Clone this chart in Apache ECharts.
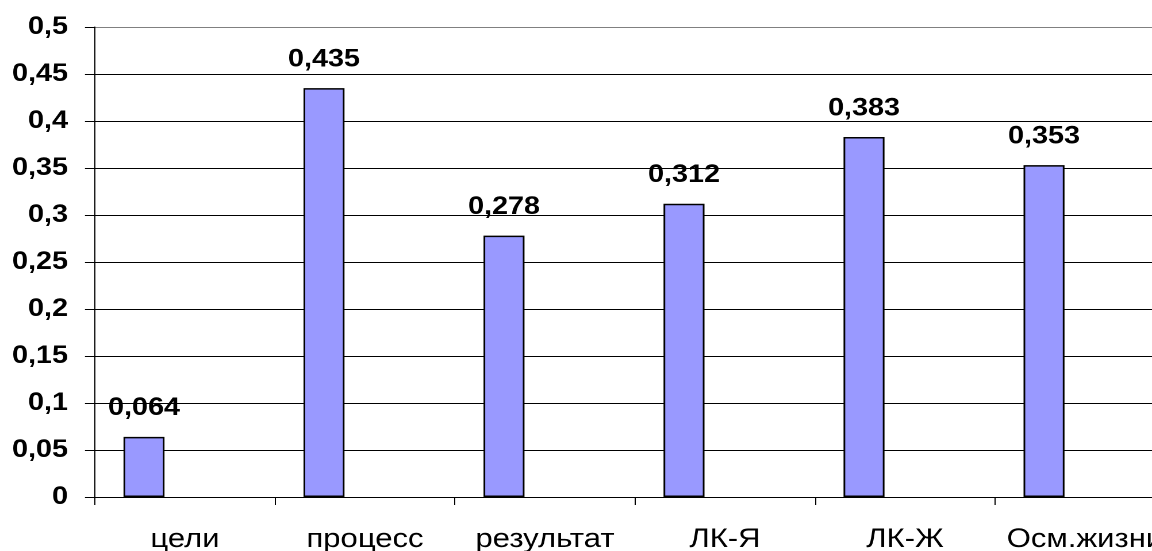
<!DOCTYPE html>
<html>
<head>
<meta charset="utf-8">
<script src="https://cdn.jsdelivr.net/npm/echarts@6/dist/echarts.min.js"></script>
<style>
html,body{margin:0;padding:0;background:#fff;overflow:hidden;}
#wrap{width:1152px;height:551px;overflow:hidden;position:relative;}
#c{width:1002px;height:551px;transform:scaleX(1.1497);transform-origin:0 0;}
</style>
</head>
<body>
<div id="wrap"><div id="c"></div></div>
<script>
const categories = ['цели', 'процесс', 'результат', 'ЛК-Я', 'ЛК-Ж', 'Осм.жизни'];
const values = [0.064, 0.435, 0.278, 0.312, 0.383, 0.353];
const emptySeries = [null, null, null, null, null, null];
const yMin = 0, yMax = 0.5, yStep = 0.05;

const fmt = v => String(+v.toFixed(3)).replace('.', ',');
const gridColors = [];
for (let i = 0; i <= 10; i++) gridColors.push(i === 10 ? '#808080' : '#000000');

const FONT = 'Liberation Sans, Arial, sans-serif';
const chart = echarts.init(document.getElementById('c'), null, {renderer: 'canvas', devicePixelRatio: 2});
chart.setOption({
  animation: false,
  backgroundColor: '#ffffff',
  textStyle: {fontFamily: FONT},
  grid: {left: 82.6, top: 27, bottom: 54, width: 939.4, containLabel: false, outerBoundsMode: 'none'},
  xAxis: {
    type: 'category',
    data: categories,
    axisLine: {lineStyle: {color: '#000', width: 1}},
    axisTick: {show: true, length: 8, interval: 0, lineStyle: {color: '#000'}},
    axisLabel: {color: '#000', fontSize: 27, margin: 29, interval: 0, fontFamily: FONT, hideOverlap: false},
    splitLine: {show: false}
  },
  yAxis: {
    type: 'value',
    min: yMin, max: yMax, interval: yStep,
    axisLine: {show: true, lineStyle: {color: '#000', width: 1}},
    axisTick: {show: true, length: 8.7, lineStyle: {color: '#000'}},
    axisLabel: {color: '#000', fontSize: 25, fontWeight: 'bold', margin: 23.5, fontFamily: FONT, formatter: fmt},
    splitLine: {show: true, lineStyle: {color: gridColors, width: 1}}
  },
  series: [
    {
      type: 'bar',
      data: values,
      barGap: '0%',
      barCategoryGap: '31.7%',
      itemStyle: {color: '#9999FF', borderColor: '#000', borderWidth: 1.5},
      label: {
        show: true, position: 'top', distance: 16,
        color: '#000', fontSize: 25, fontWeight: 'bold', fontFamily: FONT,
        formatter: p => fmt(p.value)
      }
    },
    {type: 'bar', data: emptySeries, barGap: '0%', barCategoryGap: '31.7%'},
    {type: 'bar', data: emptySeries, barGap: '0%', barCategoryGap: '31.7%'}
  ]
});
</script>
</body>
</html>
